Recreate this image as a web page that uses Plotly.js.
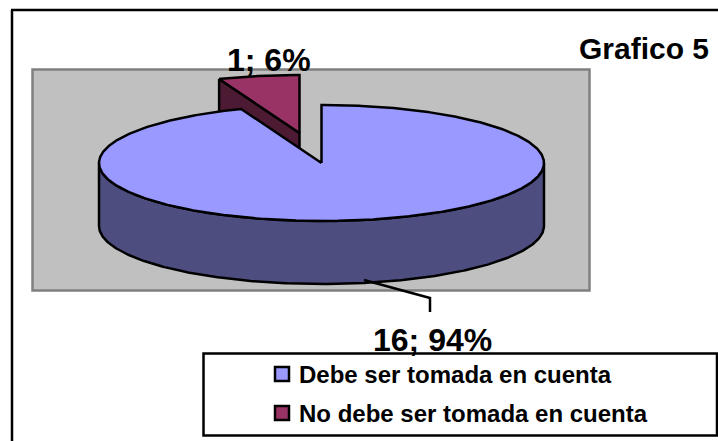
<!DOCTYPE html>
<html>
<head>
<meta charset="utf-8">
<script src="https://cdn.plot.ly/plotly-3.0.1.min.js"></script>
<style>html,body{margin:0;padding:0;background:#fff;overflow:hidden}#c{width:718px;height:441px}</style>
</head>
<body>
<div id="c"></div>
<script>
const categories = ["Debe ser tomada en cuenta", "No debe ser tomada en cuenta"];
const values = [16, 1];
const chartTitle = "Grafico 5";
const topColors = ["#9999FF", "#993366"];
const sideColors = ["#4D4D80", "#4D1A33"];

const total = values.reduce((a, b) => a + b, 0);
const F = '"Liberation Sans", Arial, sans-serif';
const cx = 321.5, cy = 163, rx = 222.5, ry = 58, depth = 63;
const off = [[0, 0], [-22, -30]];          // explosion of each slice

// sweep boundaries from the values (clockwise from 12 o'clock)
const sweep = values.map(v => v / total * 2 * Math.PI);
const startA = [0, sweep[0]];
const endA = [sweep[0], sweep[0] + sweep[1]];

function arc(a0, a1, ox, oy, dy) {
  const xs = [], ys = [], n = Math.max(2, Math.ceil(Math.abs(a1 - a0) / 0.01));
  for (let i = 0; i <= n; i++) {
    const a = a0 + (a1 - a0) * i / n;
    xs.push(cx + ox + rx * Math.sin(a));
    ys.push(cy + oy + dy - ry * Math.cos(a));
  }
  return [xs, ys];
}
function poly(name, xs, ys, fill) {
  return {
    type: "scatter", mode: "lines", x: xs, y: ys, fill: "toself", fillcolor: fill, name: name,
    line: { color: "#000", width: 2.5, shape: "linear" },
    hoverinfo: "name", showlegend: false
  };
}
function topFace(i) {
  const [ox, oy] = off[i];
  const [ax, ay] = arc(startA[i], endA[i], ox, oy, 0);
  return poly(categories[i], [cx + ox, ...ax, cx + ox], [cy + oy, ...ay, cy + oy], topColors[i]);
}

const traces = [];

// small, exploded slice: cut wall first, then top
{
  const [ox, oy] = off[1];
  const ex = cx + ox + rx * Math.sin(startA[1]), ey = cy + oy - ry * Math.cos(startA[1]);
  const tx = cx + ox, ty = cy + oy;
  traces.push(poly(categories[1], [ex, tx, tx, ex, ex], [ey, ty, ty + depth, ey + depth, ey], sideColors[1]));
  traces.push(topFace(1));
}

// large slice: visible rim (front half), then top
{
  const [tx, ty] = arc(Math.PI / 2, 3 * Math.PI / 2, 0, 0, 0);
  const [bx, by] = arc(3 * Math.PI / 2, Math.PI / 2, 0, 0, depth);
  traces.push(poly(categories[0], [...tx, ...bx, tx[0]], [...ty, ...by, ty[0]], sideColors[0]));
  traces.push(topFace(0));
}

// leader line of the big slice's label
traces.push({
  type: "scatter", mode: "lines", x: [364, 430, 430], y: [280, 298, 312],
  line: { color: "#000", width: 2.5 }, hoverinfo: "skip", showlegend: false
});

// legend swatches
const legendY = [374, 413];
categories.forEach((c, i) => {
  traces.push({
    type: "scatter", mode: "markers", x: [282], y: [legendY[i]], name: c, cliponaxis: false,
    marker: { symbol: "square", size: 14, color: topColors[i], line: { color: "#000", width: 2.5 } },
    hoverinfo: "skip", showlegend: false
  });
});

const label = i => values[i] + "; " + Math.round(values[i] / total * 100) + "%";
const ann = (x, y, text, size, anchor) => ({
  xref: "x", yref: "y", x: x, y: y, text: "<b>" + text + "</b>", showarrow: false,
  font: { family: F, size: size, color: "#000" }, xanchor: anchor || "center", yanchor: "middle"
});

const layout = {
  width: 718, height: 441, margin: { l: 0, r: 0, t: 0, b: 0 },
  paper_bgcolor: "#fff", plot_bgcolor: "#fff", showlegend: false,
  xaxis: { range: [0, 718], visible: false, fixedrange: true },
  yaxis: { range: [441, 0], visible: false, fixedrange: true },
  shapes: [
    { type: "line", layer: "below", x0: 12, x1: 12, y0: 10, y1: 441, line: { color: "#000", width: 2.5 } },
    { type: "line", layer: "below", x0: 11, x1: 718, y0: 10, y1: 10, line: { color: "#000", width: 2.5 } },
    { type: "rect", layer: "below", x0: 32.5, x1: 589.5, y0: 69.5, y1: 290.5, fillcolor: "#C0C0C0", line: { color: "#808080", width: 2.5 } },
    { type: "rect", layer: "below", x0: 203.5, x1: 717, y0: 353.5, y1: 435.5, fillcolor: "#fff", line: { color: "#000", width: 2.5 } }
  ],
  annotations: [
    ann(643.5, 48, chartTitle, 30),
    ann(269, 60, label(1), 32),
    ann(432, 340, label(0), 32),
    ann(297, legendY[0], categories[0], 24, "left"),
    ann(297, legendY[1], categories[1], 24, "left")
  ]
};
Plotly.newPlot("c", traces, layout, { displayModeBar: false, staticPlot: true });
</script>
</body>
</html>
